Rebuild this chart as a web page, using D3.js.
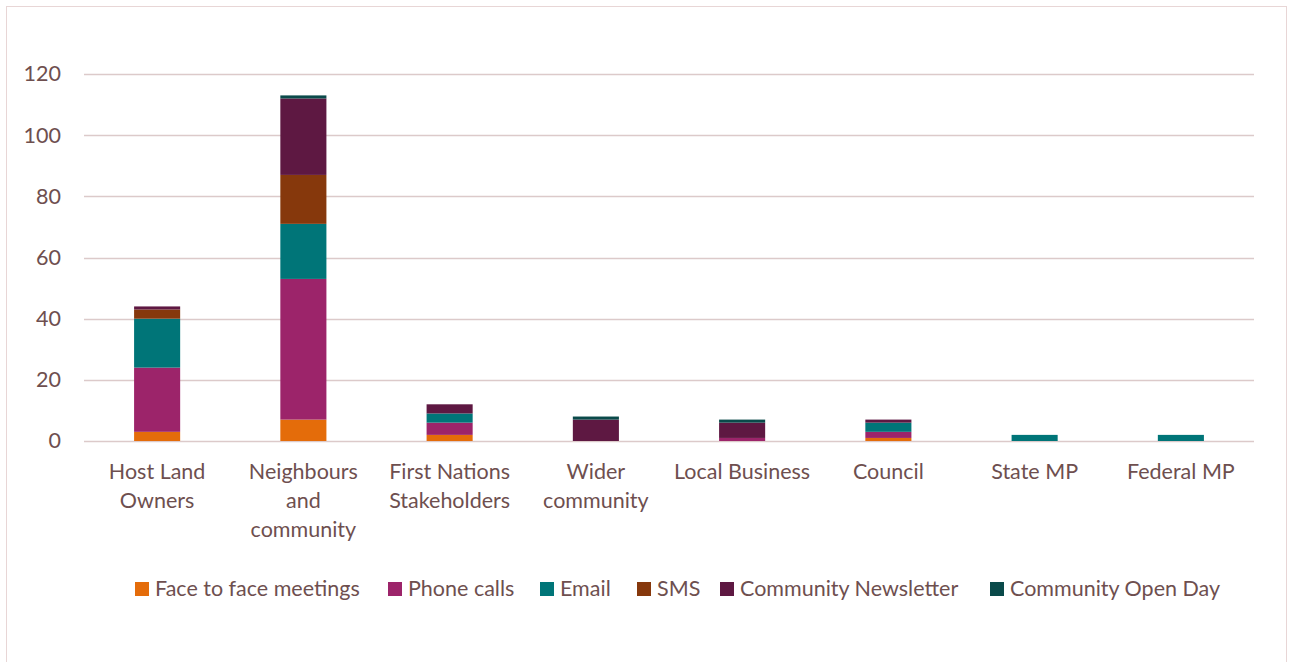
<!DOCTYPE html>
<html>
<head>
<meta charset="utf-8">
<script src="https://cdn.jsdelivr.net/npm/d3@7"></script>
<style>
  body { margin: 0; background: #fff; }
  text { font-family: Lato, "Open Sans", sans-serif; fill: #6e4f4f; }
</style>
</head>
<body>
<div id="chart"></div>
<script>
var svgWidth = 1293;
var svgHeight = 662;

// Data
var categories = ["Host Land Owners", "Neighbours and community", "First Nations Stakeholders",
    "Wider community", "Local Business", "Council", "State MP", "Federal MP"];
var seriesNames = ["Face to face meetings", "Phone calls", "Email", "SMS",
    "Community Newsletter", "Community Open Day"];
var faceToFace = [3, 7, 2, 0, 0, 1, 0, 0];
var phoneCalls = [21, 46, 4, 0, 1, 2, 0, 0];
var email = [16, 18, 3, 0, 0, 3, 2, 2];
var sms = [3, 16, 0, 0, 0, 0, 0, 0];
var newsletter = [1, 25, 3, 7, 5, 1, 0, 0];
var openDay = [0, 1, 0, 1, 1, 0, 0, 0];
var yTicks = [0, 20, 40, 60, 80, 100, 120];

var colors = ["#e46c0a", "#9c246a", "#007578", "#86380c", "#5e1842", "#0a4a4a"];
var seriesValues = [faceToFace, phoneCalls, email, sms, newsletter, openDay];

var margin = { top: 74, right: 39, bottom: 221, left: 84 };
var width = svgWidth - margin.left - margin.right;
var height = svgHeight - margin.top - margin.bottom;
var fontSize = "21.5px";

var svg = d3.select("#chart")
    .append("svg")
    .attr("width", svgWidth)
    .attr("height", svgHeight);

// outer frame
svg.append("rect")
    .attr("x", 6.5).attr("y", 6.5)
    .attr("width", 1280).attr("height", 660)
    .attr("fill", "none")
    .attr("stroke", "#e8d6d6");

var chartGroup = svg.append("g")
    .attr("transform", `translate(${margin.left}, ${margin.top})`);

var table = categories.map(function(c, i) {
    var row = { category: c };
    seriesNames.forEach(function(s, j) { row[s] = seriesValues[j][i]; });
    return row;
});

var xBand = d3.scaleBand()
    .domain(categories)
    .range([0, width])
    .paddingInner(0.685)
    .paddingOuter(0.3425);

var yLinearScale = d3.scaleLinear()
    .domain([0, 120])
    .range([height, 0]);

// gridlines
chartGroup.append("g")
    .selectAll("line")
    .data(yTicks)
    .enter()
    .append("line")
    .attr("x1", 0)
    .attr("x2", width)
    .attr("y1", d => Math.round(yLinearScale(d)) + 0.5)
    .attr("y2", d => Math.round(yLinearScale(d)) + 0.5)
    .attr("stroke", "#dccaca")
    .attr("stroke-width", 1.5);

var stack = d3.stack().keys(seriesNames);
var layers = stack(table);

chartGroup.selectAll(".layer")
    .data(layers)
    .enter()
    .append("g")
    .attr("class", "layer")
    .attr("fill", (d, i) => colors[i])
    .selectAll("rect")
    .data(d => d)
    .enter()
    .append("rect")
    .attr("x", d => xBand(d.data.category))
    .attr("width", xBand.bandwidth())
    .attr("y", d => yLinearScale(d[1]))
    .attr("height", d => yLinearScale(d[0]) - yLinearScale(d[1]));

// y axis labels
var leftAxis = d3.axisLeft(yLinearScale).tickValues(yTicks).tickSize(0).tickPadding(23);
var yAxisG = chartGroup.append("g").call(leftAxis);
yAxisG.select(".domain").remove();
yAxisG.selectAll("text")
    .style("font-size", fontSize)
    .style("font-family", "Lato, sans-serif")
    .attr("fill", "#6e4f4f");

// x axis labels, wrapped
var wrapped = {
    "Host Land Owners": ["Host Land", "Owners"],
    "Neighbours and community": ["Neighbours", "and", "community"],
    "First Nations Stakeholders": ["First Nations", "Stakeholders"],
    "Wider community": ["Wider", "community"],
    "Local Business": ["Local Business"],
    "Council": ["Council"],
    "State MP": ["State MP"],
    "Federal MP": ["Federal MP"]
};
var xLabels = chartGroup.append("g")
    .selectAll("text")
    .data(categories)
    .enter()
    .append("text")
    .attr("text-anchor", "middle")
    .style("font-size", fontSize)
    .attr("transform", d => `translate(${xBand(d) + xBand.bandwidth() / 2}, ${height + 38})`);
xLabels.selectAll("tspan")
    .data(d => wrapped[d])
    .enter()
    .append("tspan")
    .attr("x", 0)
    .attr("y", (d, i) => i * 29)
    .text(d => d);

// legend
var legendX = [135, 388, 540, 637, 720, 990];
var legend = svg.append("g")
    .selectAll("g")
    .data(seriesNames)
    .enter()
    .append("g")
    .attr("transform", (d, i) => `translate(${legendX[i]}, 582)`);
legend.append("rect")
    .attr("width", 14).attr("height", 14)
    .attr("fill", (d, i) => colors[i]);
legend.append("text")
    .attr("x", 20)
    .attr("y", 14)
    .style("font-size", fontSize)
    .text(d => d);
</script>
</body>
</html>
